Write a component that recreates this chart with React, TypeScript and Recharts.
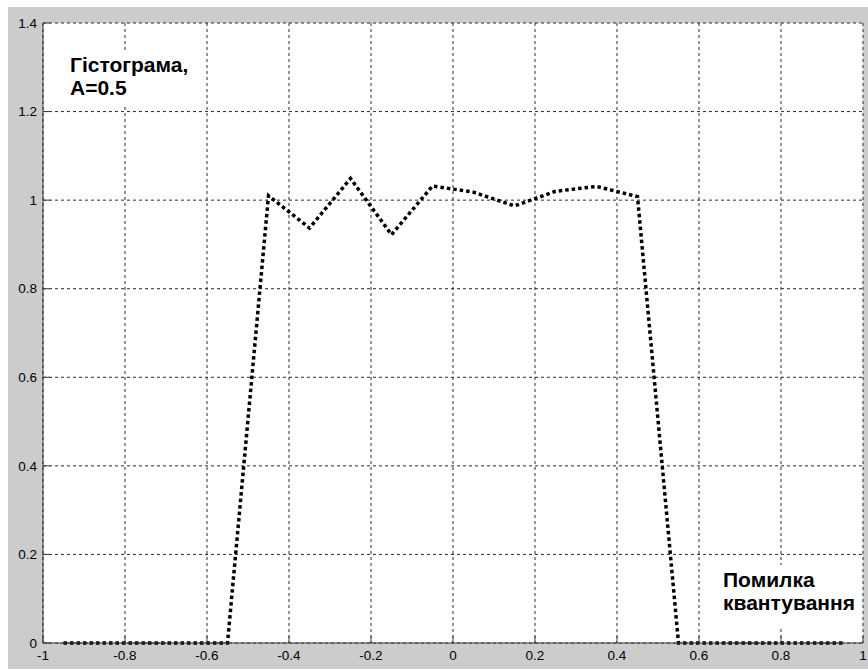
import React from "react";
import { LineChart, Line, XAxis, YAxis, CartesianGrid } from "recharts";

const xCenters = [-0.95, -0.85, -0.75, -0.65, -0.55, -0.45, -0.35, -0.25, -0.15, -0.05, 0.05, 0.15, 0.25, 0.35, 0.45, 0.55, 0.65, 0.75, 0.85, 0.95];
const histValues = [0, 0, 0, 0, 0, 1.01, 0.937, 1.049, 0.922, 1.032, 1.018, 0.987, 1.02, 1.031, 1.008, 0, 0, 0, 0, 0];
const xTicks = [-1, -0.8, -0.6, -0.4, -0.2, 0, 0.2, 0.4, 0.6, 0.8, 1];
const yTicks = [0, 0.2, 0.4, 0.6, 0.8, 1, 1.2, 1.4];
const xDomain = [-1.000001, 1.000001];
const yDomain = [0, 1.4];
const titleLines = ["Гістограма,", "A=0.5"];
const axisNoteLines = ["Помилка", "квантування"];

const data = xCenters.map((x, i) => ({ x, y: histValues[i] }));

const FONT = "'Liberation Sans', Arial, sans-serif";
const AXIS_COLOR = "#3a3a3a";
const TICK_LEN = 7;

const BottomTick = (props: any) => {
  const { x, y, payload } = props;
  return (
    <g>
      <line x1={x} x2={x} y1={y} y2={y - TICK_LEN} stroke={AXIS_COLOR} strokeWidth={1} />
      <text x={x} y={y + 17} textAnchor="middle" fontFamily={FONT} fontSize={13.5} fill="#000">
        {String(payload.value)}
      </text>
    </g>
  );
};

const TopTick = (props: any) => {
  const { x, y } = props;
  return <line x1={x} x2={x} y1={y} y2={y + TICK_LEN} stroke={AXIS_COLOR} strokeWidth={1} />;
};

const LeftTick = (props: any) => {
  const { x, y, payload } = props;
  return (
    <g>
      <line x1={x} x2={x + TICK_LEN} y1={y} y2={y} stroke={AXIS_COLOR} strokeWidth={1} />
      <text x={x - 6} y={y} dy="0.35em" textAnchor="end" fontFamily={FONT} fontSize={13.5} fill="#000">
        {String(payload.value)}
      </text>
    </g>
  );
};

const RightTick = (props: any) => {
  const { x, y } = props;
  return <line x1={x} x2={x - TICK_LEN} y1={y} y2={y} stroke={AXIS_COLOR} strokeWidth={1} />;
};

const noteStyle: React.CSSProperties = {
  position: "absolute",
  fontFamily: FONT,
  fontWeight: "bold",
  fontSize: 21,
  lineHeight: "23px",
  color: "#000",
  whiteSpace: "nowrap",
  background: "#ffffff",
};

export default function App() {
  return (
    <div style={{ position: "fixed", left: 8, top: 7, width: 860, height: 662, background: "#cccccc", overflow: "visible" }}>
      <style>{"html, body { overflow: hidden; }"}</style>
      <LineChart width={860} height={662} data={data} margin={{ top: 16, right: 5, left: 0, bottom: 0 }}>
        <CartesianGrid stroke="#2a2a2a" strokeDasharray="3 3" fill="#ffffff" horizontalValues={yTicks} verticalValues={xTicks} />
        <XAxis
          dataKey="x"
          type="number"
          domain={xDomain}
          allowDataOverflow
          ticks={xTicks}
          interval={0}
          height={26}
          tickSize={0}
          tickMargin={0}
          tickLine={false}
          tick={BottomTick}
          axisLine={{ stroke: AXIS_COLOR }}
        />
        <XAxis
          xAxisId="top"
          orientation="top"
          dataKey="x"
          type="number"
          domain={xDomain}
          allowDataOverflow
          ticks={xTicks}
          interval={0}
          height={0}
          tickSize={0}
          tickMargin={0}
          tickLine={false}
          tick={TopTick}
          axisLine={{ stroke: AXIS_COLOR }}
        />
        <YAxis
          type="number"
          domain={yDomain}
          ticks={yTicks}
          interval={0}
          width={35}
          tickSize={0}
          tickMargin={0}
          tickLine={false}
          tick={LeftTick}
          axisLine={{ stroke: AXIS_COLOR }}
        />
        <YAxis
          yAxisId="right"
          orientation="right"
          type="number"
          domain={yDomain}
          ticks={yTicks}
          interval={0}
          width={0}
          tickSize={0}
          tickMargin={0}
          tickLine={false}
          tick={RightTick}
          axisLine={{ stroke: AXIS_COLOR }}
        />
        <Line
          type="linear"
          dataKey="y"
          stroke="#000"
          strokeWidth={3.5}
          strokeDasharray="3.5 3"
          dot={false}
          activeDot={false}
          isAnimationActive={false}
        />
      </LineChart>
      <div style={{ ...noteStyle, left: 58, top: 43, padding: "3px 4px 7px 4px" }}>
        {titleLines.map((t) => (
          <div key={t}>{t}</div>
        ))}
      </div>
      <div style={{ ...noteStyle, left: 711, top: 558, padding: "3px 2px 12px 4px" }}>
        {axisNoteLines.map((t) => (
          <div key={t}>{t}</div>
        ))}
      </div>
    </div>
  );
}
